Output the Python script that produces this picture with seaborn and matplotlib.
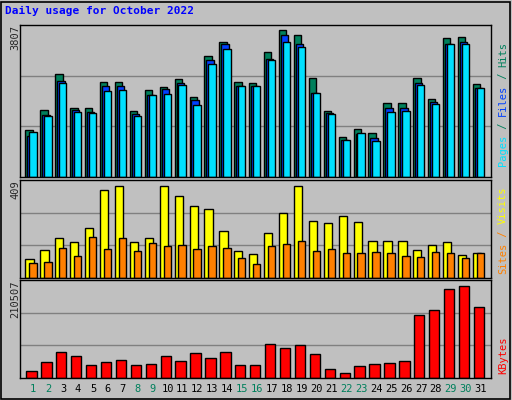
import numpy as np
import matplotlib
matplotlib.use("Agg")
import matplotlib.pyplot as plt
import seaborn as sns
from matplotlib.patches import Rectangle

# ── data ─────────────────────────────────────────────────────────────────────
days = np.arange(1, 32)
weekend = [1, 2, 8, 9, 15, 16, 22, 23, 29, 30]
hits = [1211, 1730, 2665, 1782, 1782, 2457, 2457, 1704, 2250, 2327, 2535, 2068, 3132, 3495, 2457, 2431,
        3236, 3807, 3677, 2561, 1704, 1030, 1237, 1133, 1912, 1912, 2561, 2016, 3599, 3625, 2405]
files = [1056, 1601, 2483, 1730, 1678, 2353, 2353, 1627, 2120, 2275, 2431, 1990, 3028, 3443, 2353, 2353,
         3054, 3677, 3443, 2172, 1653, 952, 1107, 1004, 1782, 1782, 2431, 1938, 3443, 3495, 2301]
pages = [1159, 1575, 2431, 1678, 1653, 2224, 2250, 1575, 2120, 2146, 2379, 1860, 2924, 3314, 2353, 2353,
         3028, 3495, 3366, 2172, 1627, 952, 1133, 926, 1678, 1704, 2379, 1886, 3443, 3443, 2301]
sites = [86, 126, 179, 161, 223, 391, 409, 161, 179, 409, 365, 320, 307, 210, 121, 108,
         201, 290, 409, 254, 245, 276, 250, 165, 165, 165, 126, 148, 161, 103, 112]
visits = [68, 72, 134, 99, 183, 130, 179, 121, 157, 143, 148, 130, 143, 134, 90, 64,
          143, 152, 165, 121, 130, 112, 112, 117, 112, 99, 95, 117, 112, 90, 112]
kbytes = [16900, 37600, 58400, 49200, 30700, 37600, 42200, 30700, 33000, 49200, 39900, 56100, 46800, 58400,
          30700, 30700, 76800, 67600, 74500, 53800, 21500, 12300, 28400, 33000, 35300, 39900, 143600,
          155100, 203500, 210507, 162000]

BG = "#C0C0C0"
GREEN, BLUE, CYAN = "#00805C", "#0040FF", "#00E0FF"
YELLOW, ORANGE, RED = "#FFFF00", "#FF8000", "#FF0000"
MONO = "DejaVu Sans Mono"

sns.set_style("white")
plt.rcParams["font.family"] = MONO

fig = plt.figure(figsize=(5.12, 4.0), dpi=100, facecolor=BG)
fig.patches.append(Rectangle((0.002, 0.003), 0.994, 0.993, transform=fig.transFigure,
                             fill=False, edgecolor="black", linewidth=1.2))

ax1 = fig.add_axes([0.039, 0.5575, 0.920, 0.38])
ax2 = fig.add_axes([0.039, 0.305, 0.920, 0.245])
ax3 = fig.add_axes([0.039, 0.055, 0.920, 0.245])


def bars(ax, offset, vals, color, width):
    sns.barplot(x=days + offset, y=vals, native_scale=True, orient="v", width=width,
                color=color, saturation=1, edgecolor="black", linewidth=1, ax=ax)


bars(ax1, -0.28, hits, GREEN, 0.49)
bars(ax1, -0.15, files, BLUE, 0.49)
bars(ax1, -0.02, pages, CYAN, 0.49)
bars(ax2, -0.25, sites, YELLOW, 0.55)
bars(ax2, -0.02, visits, ORANGE, 0.49)
bars(ax3, -0.12, kbytes, RED, 0.69)

for ax, top, frac in [(ax1, max(hits), 0.967), (ax2, max(sites), 0.94), (ax3, max(kbytes), 0.94)]:
    ymax = top / frac
    ax.set_facecolor(BG)
    ax.set_xlim(0.107, 31.69)
    ax.set_ylim(0, ymax)
    for g in (ymax / 3, 2 * ymax / 3):
        ax.axhline(g, color="#808080", linewidth=1, zorder=0)
    ax.set_xticks([])
    ax.set_yticks([])
    ax.set_xlabel("")
    ax.set_ylabel("")
    for s in ax.spines.values():
        s.set_visible(True)
        s.set_color("black")
        s.set_linewidth(1)

fig.text(0.01, 0.985, "Daily usage for October 2022", color="#0000FF", fontsize=8,
         fontweight="bold", va="top", ha="left")

# max labels at the left
fig.text(0.03, 0.937, str(max(hits)), rotation=90, fontsize=7.5, va="top", ha="center")
fig.text(0.03, 0.55, str(max(sites)), rotation=90, fontsize=7.5, va="top", ha="center")
fig.text(0.03, 0.30, str(max(kbytes)), rotation=90, fontsize=7.5, va="top", ha="center")


def side_label(parts, y0):
    y = y0
    for txt, col in parts:
        t = fig.text(0.982, y, txt, rotation=90, color=col, fontsize=7.5,
                     va="bottom", ha="center")
        y += len(txt) * 0.0155


side_label([("Pages", CYAN), (" / ", GREEN), ("Files", BLUE), (" / ", GREEN), ("Hits", GREEN)], 0.585)
side_label([("Sites", ORANGE), (" / ", ORANGE), ("Visits", YELLOW)], 0.315)
side_label([("KBytes", RED)], 0.065)

# day labels
for d in days:
    x = 0.039 + 0.920 * (d - 0.107) / (31.69 - 0.107)
    fig.text(x, 0.028, str(d), color=GREEN if d in weekend else "black",
             fontsize=7.5, ha="center", va="center")

fig.savefig("out.png", dpi=100, facecolor=BG)
